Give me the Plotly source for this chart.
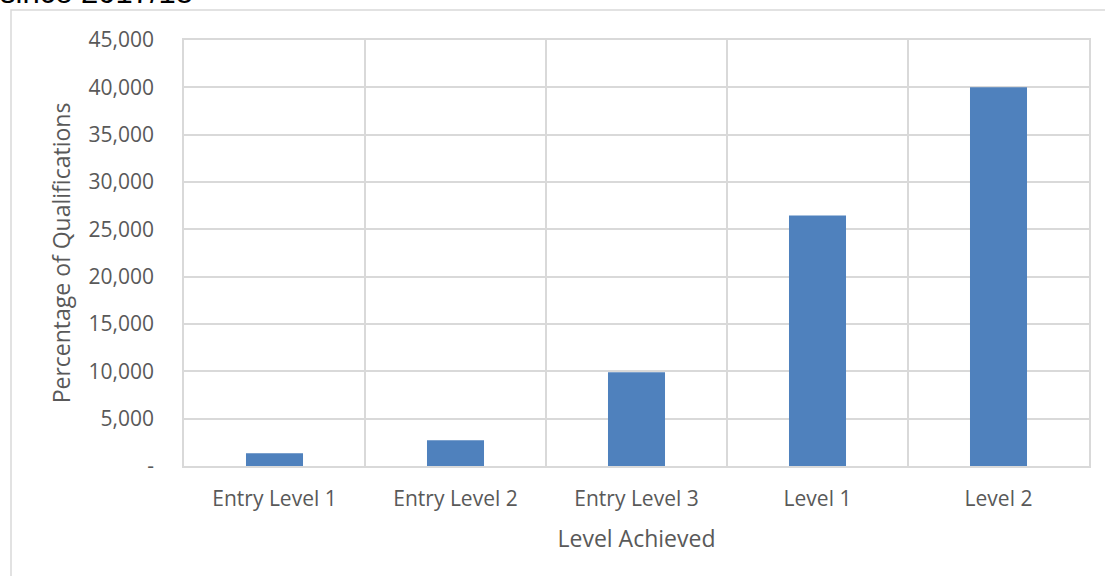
import plotly.graph_objects as go

categories = ["Entry Level 1", "Entry Level 2", "Entry Level 3", "Level 1", "Level 2"]
values = [1350, 2720, 9900, 26450, 40000]
y_tickvals = [0, 5000, 10000, 15000, 20000, 25000, 30000, 35000, 40000, 45000]
y_ticktext = ["-", "5,000", "10,000", "15,000", "20,000", "25,000", "30,000", "35,000", "40,000", "45,000"]
title_text = "since 2017/18"

W, H = 1105, 576
L, R, T, B = 184, 1089, 40, 466
grid = "#D9D9D9"
txt = "#595959"
font_family = "Open Sans"

fig = go.Figure(go.Bar(x=categories, y=values, marker=dict(color="#4F81BD", line=dict(width=0))))

def px_x(px):
    return (px - L) / (R - L)

def px_y(py):
    return (B - py) / (B - T)

fig.update_layout(
    width=W, height=H,
    margin=dict(l=L, r=W - R, t=T, b=H - B, pad=0),
    paper_bgcolor="white", plot_bgcolor="white",
    bargap=0.685,
    showlegend=False,
    font=dict(family=font_family, color=txt, size=21),
)
fig.update_xaxes(
    type="category", tickson="boundaries", showgrid=True, gridcolor=grid, gridwidth=1.5,
    showline=True, linecolor=grid, linewidth=1.5, mirror=True, ticks="", ticklabelstandoff=13,
    tickfont=dict(size=21, color=txt),
    title=dict(text="Level Achieved", font=dict(size=23, color=txt), standoff=20),
)
fig.update_yaxes(
    range=[0, 45000], tickvals=y_tickvals, ticktext=y_ticktext,
    showgrid=True, gridcolor=grid, gridwidth=1.5, zeroline=False,
    showline=True, linecolor=grid, linewidth=1.5, mirror=True, ticks="", ticklabelstandoff=24,
    tickfont=dict(size=21, color=txt),
    title=dict(text="Percentage of Qualifications", font=dict(size=23, color=txt), standoff=12),
)
# outer chart border
fig.add_shape(type="rect", xref="paper", yref="paper",
              x0=px_x(11), x1=px_x(1115), y0=px_y(590), y1=px_y(10),
              line=dict(color=grid, width=1.5), fillcolor="rgba(0,0,0,0)", layer="below")
fig.add_annotation(text=title_text, xref="paper", yref="paper", x=px_x(-2), y=px_y(12),
                   xanchor="left", yanchor="bottom", showarrow=False,
                   font=dict(family="Liberation Sans", size=31, color="black"))
fig.write_html("out.html")
